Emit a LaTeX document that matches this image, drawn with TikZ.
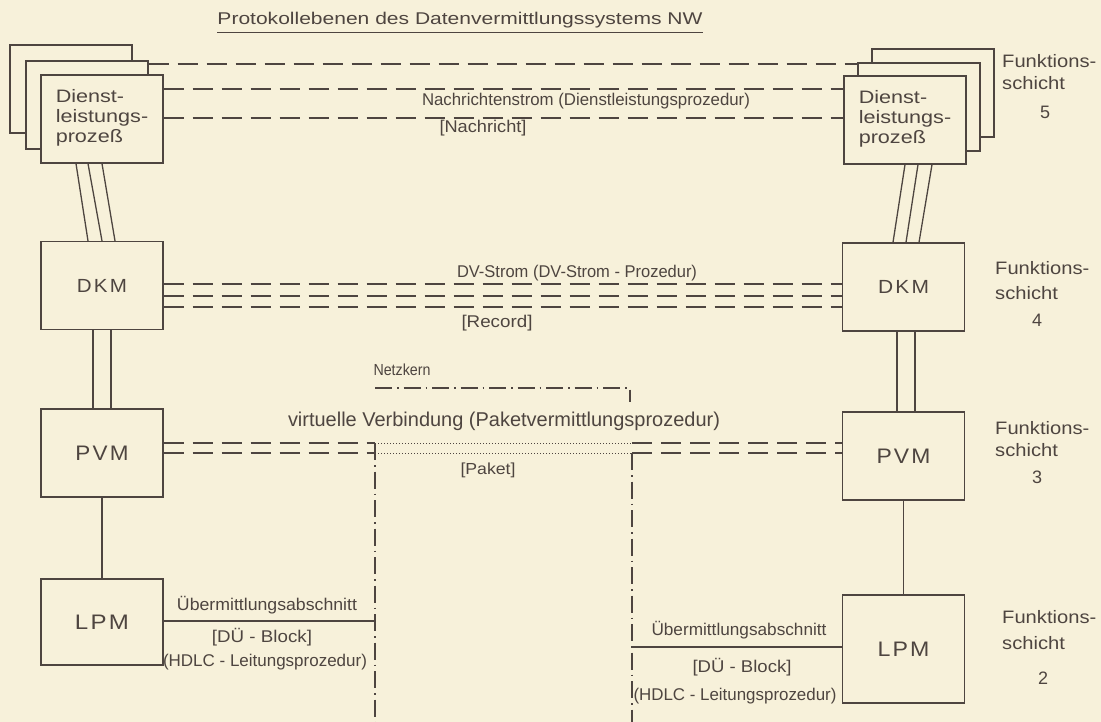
\documentclass[tikz,border=0pt]{standalone}
\usepackage{fontspec}
\setmainfont{Liberation Sans}
\usepackage{graphicx}
\definecolor{paper}{HTML}{F7F1DA}
\definecolor{ink}{HTML}{4E4540}
\newcommand\fitw[2]{\resizebox{#1}{\height}{#2}}
\newcommand\dienstlbl{\scalebox{1.2}[1]{\begin{tabular}{@{}l@{}}Dienst-\\leistungs-\\prozeß\end{tabular}}}
\newcommand\funklbl{\scalebox{1.12}[1]{\begin{tabular}{@{}l@{}}Funktions-\\schicht\end{tabular}}}
\tikzset{
  box/.style={draw=ink, fill=paper, line width=1.2pt, inner sep=0pt, minimum width=122pt, minimum height=88pt, text=ink},
  lbl/.style={text=ink, inner sep=0pt},
  f17/.style={font=\fontsize{17}{20}\selectfont},
  dsh/.style={draw=ink, line width=1.3pt, dash pattern=on 20pt off 9pt},
  dotln/.style={draw=ink, line width=1pt, dash pattern=on 1pt off 2pt},
  sol/.style={draw=ink, line width=1.3pt},
  dashdot/.style={draw=ink, line width=1.2pt, dash pattern=on 17pt off 5pt on 1.5pt off 5pt}
}
\begin{document}
\begin{tikzpicture}[x=1pt,y=-1pt]
\fill[paper] (0,0) rectangle (1101,722);
\useasboundingbox (0,0) rectangle (1101,722);

% title
\node[lbl,f17] (title) at (460,20) {\fitw{485pt}{Protokollebenen des Datenvermittlungssystems NW}};
\coordinate (ul) at (0,33);
\draw[draw=ink, line width=1pt] (title.west |- ul) -- (title.east |- ul);

% service process stacks
\node[box] (dLb) at (71,89) {};
\node[box] (dLm) at (87,105) {};
\node[box, font=\fontsize{18}{20}\selectfont] (dLf) at (102,119) {\dienstlbl};
\node[box] (dRb) at (933,93) {};
\node[box] (dRm) at (919,107) {};
\node[box, font=\fontsize{18}{20}\selectfont] (dRf) at (905,120) {\dienstlbl};

% DKM
\node[box, font=\fontsize{19}{20}\selectfont] (dkmL) at (102,285.5) {\raisebox{-10pt}{\fitw{50pt}{D\hspace{2pt}K\hspace{2pt}M}}};
\node[box, font=\fontsize{19}{20}\selectfont] (dkmR) at (903.5,287) {\raisebox{-11pt}{\fitw{51pt}{D\hspace{2pt}K\hspace{2pt}M}}};
% PVM
\node[box, font=\fontsize{21}{22}\selectfont] (pvmL) at (102,453) {\fitw{53pt}{P\hspace{2pt}V\hspace{2pt}M}};
\node[box, font=\fontsize{21}{22}\selectfont] (pvmR) at (903.5,456) {\fitw{54pt}{P\hspace{2pt}V\hspace{2pt}M}};
% LPM
\node[box, minimum height=86pt, font=\fontsize{21}{22}\selectfont] (lpmL) at (102,622) {\raisebox{-3pt}{\fitw{54pt}{L\hspace{2pt}P\hspace{2pt}M}}};
\node[box, minimum height=108pt, font=\fontsize{21}{22}\selectfont] (lpmR) at (903.5,649) {\raisebox{-4pt}{\fitw{52pt}{L\hspace{2pt}P\hspace{2pt}M}}};

% layer labels
\node[lbl, anchor=west, font=\fontsize{18}{22}\selectfont] (f5) at (1002,74) {\funklbl};
\node[lbl, font=\fontsize{18}{20}\selectfont] (f5n) at (1045,112) {5};
\node[lbl, anchor=west, font=\fontsize{18}{25}\selectfont] (f4) at (995,282) {\funklbl};
\node[lbl, font=\fontsize{18}{20}\selectfont] (f4n) at (1037,320) {4};
\node[lbl, anchor=west, font=\fontsize{18}{22}\selectfont] (f3) at (995,441) {\funklbl};
\node[lbl, font=\fontsize{18}{20}\selectfont] (f3n) at (1037,477) {3};
\node[lbl, anchor=west, font=\fontsize{18}{26}\selectfont] (f2) at (1002,631) {\funklbl};
\node[lbl, font=\fontsize{18}{20}\selectfont] (f2n) at (1043,678) {2};

% layer 5 lines
\coordinate (n1) at (0,64);
\coordinate (n2) at (0,89);
\coordinate (n3) at (0,118);
\draw[dsh] (dLm.east |- n1) -- (dRm.west |- n1);
\draw[dsh] (dLf.east |- n2) -- (dRf.west |- n2);
\draw[dsh] (dLf.east |- n3) -- (dRf.west |- n3);
\node[lbl,f17] (lNach) at (586,101) {\fitw{328pt}{Nachrichtenstrom (Dienstleistungsprozedur)}};
\node[lbl,f17] (lNachr) at (483,128) {\fitw{87pt}{[Nachricht]}};

% slanted triple lines
\draw[sol] ([xshift=-26pt]dLf.south) -- ([xshift=-14pt]dkmL.north);
\draw[sol] ([xshift=-14pt]dLf.south) -- ([xshift=0pt]dkmL.north);
\draw[sol] ([xshift=0pt]dLf.south) -- ([xshift=13pt]dkmL.north);
\draw[sol] ([xshift=0pt]dRf.south) -- ([xshift=-10.5pt]dkmR.north);
\draw[sol] ([xshift=13pt]dRf.south) -- ([xshift=2.5pt]dkmR.north);
\draw[sol] ([xshift=27pt]dRf.south) -- ([xshift=15.5pt]dkmR.north);

% layer 4 lines
\coordinate (m1) at (0,284);
\coordinate (m2) at (0,296);
\coordinate (m3) at (0,307);
\draw[dsh] (dkmL.east |- m1) -- (dkmR.west |- m1);
\draw[dsh] (dkmL.east |- m2) -- (dkmR.west |- m2);
\draw[dsh] (dkmL.east |- m3) -- (dkmR.west |- m3);
\node[lbl,f17] (lDV) at (577,273) {\fitw{240pt}{DV-Strom (DV-Strom - Prozedur)}};
\node[lbl,f17] (lRec) at (497,323) {\fitw{71pt}{[Record]}};

% DKM - PVM double lines
\draw[sol] ([xshift=-9pt]dkmL.south) -- ([xshift=-9pt]pvmL.north);
\draw[sol] ([xshift=9pt]dkmL.south) -- ([xshift=9pt]pvmL.north);
\draw[sol] ([xshift=-6.5pt]dkmR.south) -- ([xshift=-6.5pt]pvmR.north);
\draw[sol] ([xshift=11.5pt]dkmR.south) -- ([xshift=11.5pt]pvmR.north);

% Netzkern
\coordinate (nkTL) at (375,388);
\coordinate (nkTR) at (630,388);
\coordinate (nkTick) at (630,402);
\coordinate (nkBL) at (375,722);
\coordinate (nkBR) at (632,722);
\coordinate (p1) at (0,443);
\coordinate (p2) at (0,453);
\draw[dashdot] (nkTL) -- (nkTR) -- (nkTick);
\draw[dashdot] (nkTL |- p1) -- (nkBL);
\draw[dashdot] (nkBR |- p2) -- (nkBR);
\node[lbl, font=\fontsize{16}{18}\selectfont] (lNk) at (402,370) {\fitw{57pt}{Netzkern}};

% layer 3 lines
\draw[dsh] (pvmL.east |- p1) -- (nkTL |- p1);
\draw[dsh] (pvmL.east |- p2) -- (nkTL |- p2);
\draw[dotln] (nkTL |- p1) -- (nkBR |- p1);
\draw[dotln] (nkTL |- p2) -- (nkBR |- p2);
\draw[dsh] (nkBR |- p1) -- (pvmR.west |- p1);
\draw[dsh] (nkBR |- p2) -- (pvmR.west |- p2);
\node[lbl, font=\fontsize{20}{22}\selectfont] (lVirt) at (504,421) {\fitw{432pt}{virtuelle Verbindung (Paketvermittlungsprozedur)}};
\node[lbl, font=\fontsize{16}{18}\selectfont] (lPak) at (488,470) {\fitw{55pt}{[Paket]}};

% PVM - LPM
\draw[sol] (pvmL.south) -- (lpmL.north);
\draw[sol] (pvmR.south) -- (lpmR.north);

% layer 2 lines
\coordinate (h1) at (0,621);
\coordinate (h2) at (0,647);
\draw[sol] (lpmL.east |- h1) -- (nkBL |- h1);
\draw[sol] (nkBR |- h2) -- (lpmR.west |- h2);
\node[lbl,f17] (lUeL) at (267,605) {\fitw{180pt}{Übermittlungsabschnitt}};
\node[lbl,f17] (lBlkL) at (262,637) {\fitw{100pt}{[DÜ - Block]}};
\node[lbl,f17] (lHdL) at (265,662) {\fitw{204pt}{(HDLC - Leitungsprozedur)}};
\node[lbl,f17] (lUeR) at (739,630) {\fitw{175pt}{Übermittlungsabschnitt}};
\node[lbl,f17] (lBlkR) at (742,667) {\fitw{99pt}{[DÜ - Block]}};
\node[lbl,f17] (lHdR) at (735,696) {\fitw{203pt}{(HDLC - Leitungsprozedur)}};
\end{tikzpicture}
\end{document}
